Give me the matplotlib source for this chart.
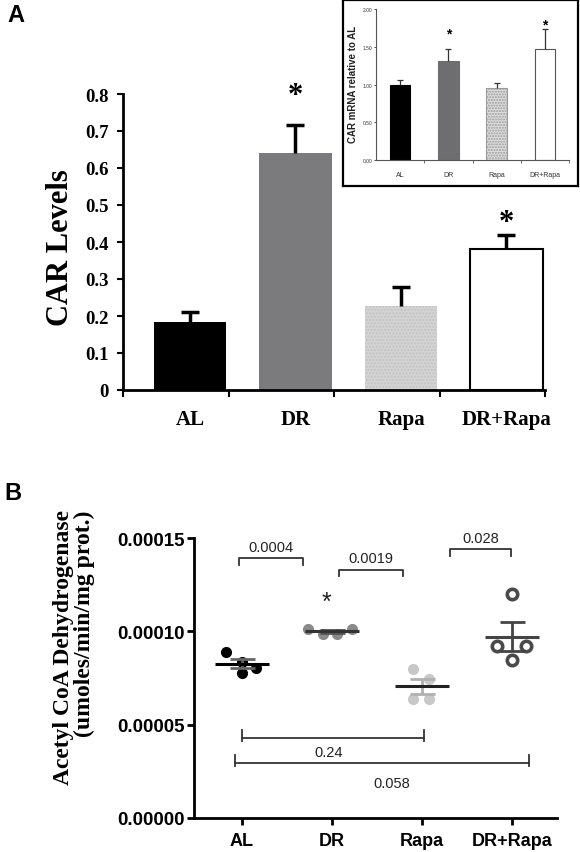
import numpy as np
import matplotlib
matplotlib.use("Agg")
import matplotlib.pyplot as plt

# ---------------- data ----------------
groups = ["AL", "DR", "Rapa", "DR+Rapa"]

# Panel A main: CAR levels
car_levels = [0.185, 0.640, 0.228, 0.382]
car_err = [0.027, 0.077, 0.050, 0.038]
car_star_y = [None, 0.795, None, 0.453]   # asterisk positions (None = no star)

# Panel A inset: CAR mRNA relative to AL
mrna = [1.00, 1.31, 0.95, 1.47]
mrna_err = [0.06, 0.16, 0.07, 0.26]
mrna_star_y = [None, 1.68, None, 1.80]

# Panel B: Acetyl CoA dehydrogenase individual values
acd_AL = [8.88e-5, 8.38e-5, 8.04e-5, 7.77e-5]
acd_DR = [1.015e-4, 0.985e-4, 0.985e-4, 1.015e-4]
acd_Rapa = [8.0e-5, 7.45e-5, 6.38e-5, 6.38e-5]
acd_DRRapa = [1.20e-4, 9.2e-5, 9.2e-5, 8.45e-5]
acd_jitter = [[-0.17, 0.0, 0.16, 0.0],
              [-0.26, -0.10, 0.06, 0.22],
              [-0.10, 0.08, -0.10, 0.08],
              [0.0, -0.17, 0.16, 0.0]]

# p-value brackets: (x1, x2, y, label)
top_brackets = [(-0.03, 0.68, 1.392e-4, "0.0004"),
                (1.08, 1.79, 1.331e-4, "0.0019"),
                (2.31, 2.99, 1.442e-4, "0.028")]
bottom_brackets = [(0.0, 2.02, 4.27e-5, "0.24"),
                   (-0.08, 3.19, 2.93e-5, "0.058")]
bottom_label_pos = [(0.96, 3.54e-5), (1.67, 1.88e-5)]
b_star = (0.94, 1.16e-4)

W, H = 580, 853
fig = plt.figure(figsize=(W / 100, H / 100), dpi=100)

def fx(px):
    return px / W

def fy(py):
    return 1 - py / H

serif = "Liberation Serif"
sans = "Liberation Sans"

# ---------------- Panel A main ----------------
ax = fig.add_axes([fx(123), fy(391), fx(545 - 123), (391 - 95) / H])
xs = np.arange(4) + 0.635
bw = 0.69
a_face = ["black", "#7b7b7d", "#d4d4d4", "white"]
a_edge = ["black", "#7b7b7d", "#c2c2c2", "black"]
for i in range(4):
    ax.bar(xs[i], car_levels[i], width=bw, color=a_face[i], edgecolor=a_edge[i],
           linewidth=1.5 if i == 3 else 0.0, hatch="....." if i == 2 else None, zorder=2)
tops = np.array(car_levels) + np.array(car_err)
ax.vlines(xs, car_levels, tops, color="black", linewidth=2.5, zorder=3)
ax.plot(xs, tops, linestyle="none", marker="_", markersize=13, markeredgewidth=2.5,
        color="black", zorder=3)
for i in range(4):
    if car_star_y[i] is not None:
        ax.text(xs[i], car_star_y[i], "*", ha="center", va="center",
                fontsize=22, fontfamily=serif, fontweight="bold", clip_on=False)
ax.set_xlim(0, 4)
ax.set_ylim(0, 0.8)
ax.set_yticks(np.arange(0, 0.81, 0.1))
ax.set_yticklabels(["0"] + [f"{v:.1f}" for v in np.arange(0.1, 0.81, 0.1)])
ax.set_xticks(xs)
ax.set_xticklabels(groups)
ax.set_xticks(np.arange(0, 5), minor=True)
for s in ["top", "right"]:
    ax.spines[s].set_visible(False)
for s in ["left", "bottom"]:
    ax.spines[s].set_linewidth(2)
ax.tick_params(axis="y", direction="out", length=4, width=1.5, pad=6, labelsize=13.5)
ax.tick_params(axis="x", which="major", length=0, pad=14, labelsize=15)
ax.tick_params(axis="x", which="minor", direction="out", length=5, width=1.5)
for lab in ax.get_yticklabels() + ax.get_xticklabels():
    lab.set_fontfamily(serif)
    lab.set_fontweight("bold")
fig.text(fx(60), fy(248), "CAR Levels", rotation=90, ha="center", va="center",
         fontsize=22, fontfamily=serif, fontweight="bold")

# ---------------- Panel A inset ----------------
frame = fig.add_axes([fx(343), fy(187), fx(578 - 343), (187 - 1) / H])
frame.set_xticks([])
frame.set_yticks([])
for s in frame.spines.values():
    s.set_linewidth(1.6)
frame.set_facecolor("white")

ins = fig.add_axes([fx(376), fy(161), fx(569 - 376), (161 - 10) / H])
ins.patch.set_alpha(0)
ix = np.arange(4)
i_face = ["black", "#6e6e70", "#dedede", "white"]
i_edge = ["black", "#6e6e70", "#9a9a9a", "#555555"]
for i in range(4):
    ins.bar(ix[i], mrna[i], width=0.42, color=i_face[i], edgecolor=i_edge[i],
            linewidth=0.8, hatch="......" if i == 2 else None, zorder=2)
itops = np.array(mrna) + np.array(mrna_err)
ins.vlines(ix, mrna, itops, color="#333333", linewidth=0.9, zorder=3)
ins.plot(ix, itops, linestyle="none", marker="_", markersize=4, markeredgewidth=0.9,
         color="#333333", zorder=3)
for i in range(4):
    if mrna_star_y[i] is not None:
        ins.text(ix[i], mrna_star_y[i], "*", ha="center", va="center",
                 fontsize=10, fontweight="bold", fontfamily=sans)
ins.set_xlim(-0.5, 3.5)
ins.set_ylim(0, 2)
ins.set_yticks([0, 0.5, 1.0, 1.5, 2.0])
ins.set_yticklabels(["0.00", "0.50", "1.00", "1.50", "2.00"])
ins.set_xticks(ix)
ins.set_xticklabels(groups)
ins.set_xticks([0.5, 1.5, 2.5, 3.5], minor=True)
for s in ["top", "right"]:
    ins.spines[s].set_visible(False)
for s in ["left", "bottom"]:
    ins.spines[s].set_linewidth(0.8)
    ins.spines[s].set_color("#555555")
ins.tick_params(axis="y", direction="out", length=1.5, width=0.6, pad=1, labelsize=3.5, colors="#333333")
ins.tick_params(axis="x", which="major", length=0, pad=8, labelsize=5, colors="#333333")
ins.tick_params(axis="x", which="minor", direction="out", length=2, width=0.6, color="#555555")
for lab in ins.get_xticklabels() + ins.get_yticklabels():
    lab.set_fontfamily(sans)
fig.text(fx(353), fy(84), "CAR mRNA relative to AL", rotation=90, ha="center", va="center",
         fontsize=7, fontfamily=sans, fontweight="bold", color="#222222")

# ---------------- Panel B ----------------
bx = fig.add_axes([fx(194), fy(819), fx(557 - 194), (819 - 539) / H])
data_b = [acd_AL, acd_DR, acd_Rapa, acd_DRRapa]
pt_face = ["black", "#8a8a8a", "#c8c8c8", "none"]
pt_edge = ["black", "#8a8a8a", "#c8c8c8", "#4a4a4a"]
mean_col = ["black", "#333333", "#222222", "#444444"]
sem_col = ["#666666", "#555555", "#b0b0b0", "#444444"]
for i, vals in enumerate(data_b):
    vals = np.array(vals)
    xj = i + np.array(acd_jitter[i])
    bx.plot(xj, vals, "o", markersize=7 if i < 3 else 7.5,
            markerfacecolor=pt_face[i], markeredgecolor=pt_edge[i],
            markeredgewidth=1 if i < 3 else 2.6, linestyle="none", zorder=2)
    m = vals.mean()
    sem = vals.std(ddof=1) / np.sqrt(len(vals))
    bx.errorbar([i], [m], yerr=[[sem], [sem]], fmt="none", ecolor=sem_col[i],
                elinewidth=2, capsize=9, capthick=2, zorder=3)
    bx.hlines(m, i - 0.3, i + 0.3, color=mean_col[i], linewidth=2.2, zorder=4)

bcol = "#333333"
for x1, x2, y, lab in top_brackets:
    d = 3.6e-6
    bx.plot([x1, x1, x2, x2], [y - d, y, y, y - d], color=bcol, lw=1.3, zorder=5)
    bx.text((x1 + x2) / 2, y + 2.2e-6, lab, ha="center", va="bottom", fontsize=10.5,
            fontfamily=sans, color="#222222")
for (x1, x2, y, lab), (lx, ly) in zip(bottom_brackets, bottom_label_pos):
    d = 4.5e-6
    bx.plot([x1, x2], [y, y], color=bcol, lw=1.3, zorder=5)
    bx.plot([x1, x1], [y - 1.5e-6, y + d], color=bcol, lw=1.3, zorder=5)
    bx.plot([x2, x2], [y - 1.5e-6, y + d], color=bcol, lw=1.3, zorder=5)
    bx.text(lx, ly, lab, ha="center", va="center", fontsize=10.5, fontfamily=sans, color="#222222")
bx.text(b_star[0], b_star[1], "*", ha="center", va="center", fontsize=18, fontfamily=sans, color="#222222")

bx.set_xlim(-0.53, 3.5)
bx.set_ylim(0, 0.00015)
bx.set_yticks([0, 5e-5, 1e-4, 1.5e-4])
bx.set_yticklabels(["0.00000", "0.00005", "0.00010", "0.00015"])
bx.set_xticks(np.arange(4))
bx.set_xticklabels(groups)
for s in ["top", "right"]:
    bx.spines[s].set_visible(False)
for s in ["left", "bottom"]:
    bx.spines[s].set_linewidth(2)
bx.tick_params(axis="y", direction="out", length=5, width=2, pad=1.5, labelsize=13.5)
bx.tick_params(axis="x", direction="out", length=5, width=2, pad=5, labelsize=13)
for lab in bx.get_xticklabels() + bx.get_yticklabels():
    lab.set_fontfamily(sans)
    lab.set_fontweight("bold")
fig.text(fx(74), fy(648), "Acetyl CoA Dehydrogenase\n(umoles/min/mg prot.)", rotation=90,
         ha="center", va="center", multialignment="right", linespacing=1.0,
         fontsize=17, fontfamily=serif, fontweight="bold")

# panel letters
fig.text(fx(16), fy(16), "A", ha="center", va="center", fontsize=17, fontweight="bold", fontfamily=sans)
fig.text(fx(13), fy(493), "B", ha="center", va="center", fontsize=17, fontweight="bold", fontfamily=sans)

fig.savefig("out.png", dpi=100)
